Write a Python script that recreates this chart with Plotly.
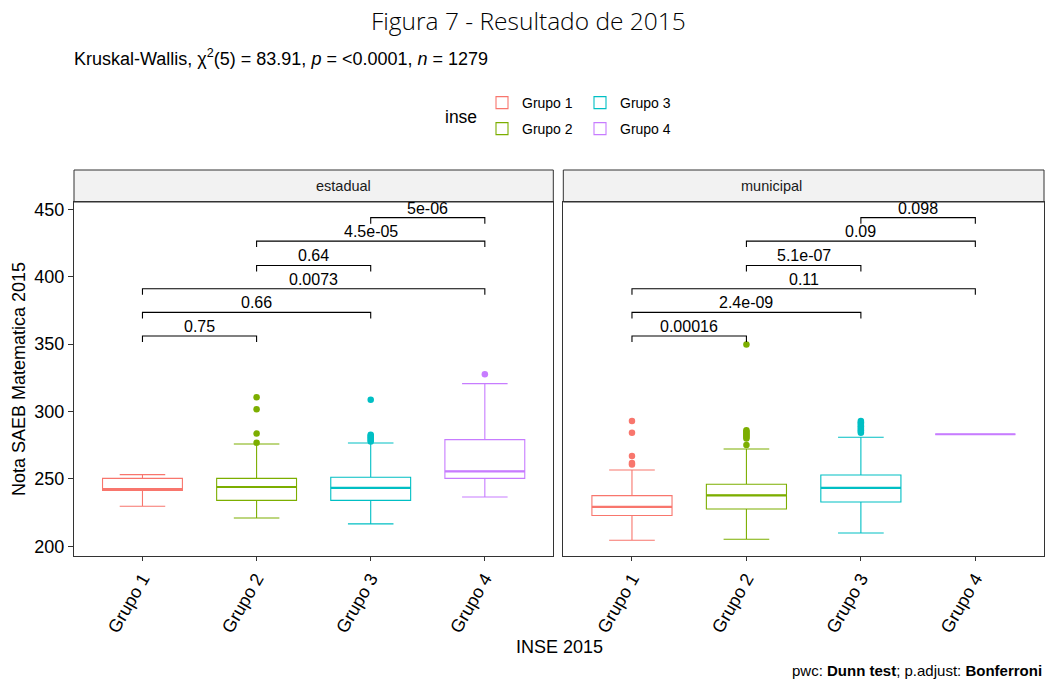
import plotly.graph_objects as go

# ---------------- data ----------------
groups = ["Grupo 1", "Grupo 2", "Grupo 3", "Grupo 4"]
colors = ["#F8766D", "#7CAE00", "#00BFC4", "#C77CFF"]
panels = ["estadual", "municipal"]

# estadual box statistics
est_q1 = [241.5, 234.1, 234.1, 250.4]
est_med = [242.5, 244.0, 243.3, 255.6]
est_q3 = [250.4, 250.4, 251.2, 279.1]
est_lo = [229.7, 221.0, 216.6, 236.6]
est_hi = [253.2, 275.9, 276.6, 320.7]
est_out = [[], [310.5, 301.6, 283.6, 276.8],
           [308.8, 282.8, 281.8, 280.8, 279.8, 278.8, 277.8], [327.6]]

# municipal box statistics
mun_q1 = [222.8, 227.7, 232.9, 283.1]
mun_med = [229.2, 237.8, 243.3, 283.1]
mun_q3 = [237.6, 246.0, 252.9, 283.1]
mun_lo = [204.5, 205.2, 209.9, 283.1]
mun_hi = [256.6, 272.2, 280.9, 283.1]
mun_out = [[293.0, 284.3, 267.0, 261.8, 260.6],
           [349.6, 286.0, 285.0, 284.0, 283.0, 282.0, 281.0, 280.0, 275.2],
           [293.0, 292.0, 291.0, 290.0, 289.0, 288.0, 287.0, 286.0, 285.0, 284.3],
           []]

# pairwise comparisons (Dunn test)
br_g1 = ["Grupo 1", "Grupo 1", "Grupo 1", "Grupo 2", "Grupo 2", "Grupo 3"]
br_g2 = ["Grupo 2", "Grupo 3", "Grupo 4", "Grupo 3", "Grupo 4", "Grupo 4"]
br_y = [356.0, 373.5, 391.0, 408.3, 426.4, 443.8]
est_p = ["0.75", "0.66", "0.0073", "0.64", "4.5e-05", "5e-06"]
mun_p = ["0.00016", "2.4e-09", "0.11", "5.1e-07", "0.09", "0.098"]
tip = 4.45

y_ticks = [200, 250, 300, 350, 400, 450]

# ---------------- figure ----------------
W, H = 1046, 683
ML, MR, MT, MB = 74, 2, 202, 127
PW, PH = W - ML - MR, H - MT - MB


def px(x):
    return (x - ML) / PW


def py(y):
    return (H - MB - y) / PH


FONT = "Arial, Liberation Sans, sans-serif"
fig = go.Figure()

panel_data = [
    (est_q1, est_med, est_q3, est_lo, est_hi, est_out, est_p),
    (mun_q1, mun_med, mun_q3, mun_lo, mun_hi, mun_out, mun_p),
]
legend_of = ["legend", "legend2", "legend", "legend2"]

for pi, (q1, med, q3, lo, hi, out, pv) in enumerate(panel_data):
    xa = "x" if pi == 0 else "x2"
    ya = "y" if pi == 0 else "y2"
    for gi, g in enumerate(groups):
        fig.add_trace(go.Box(
            x=[gi], q1=[q1[gi]], median=[med[gi]], q3=[q3[gi]],
            lowerfence=[lo[gi]], upperfence=[hi[gi]],
            name=g, boxpoints=False, width=0.7, whiskerwidth=0.57,
            line=dict(color=colors[gi], width=1.1), fillcolor="rgba(255,255,255,0)",
            xaxis=xa, yaxis=ya, showlegend=(pi == 0), legend=legend_of[gi],
            legendgroup=g, hoverinfo="skip"))
        # thicker median segment
        fig.add_trace(go.Scatter(
            x=[gi - 0.35, gi + 0.35], y=[med[gi], med[gi]], mode="lines",
            line=dict(color=colors[gi], width=2.2), xaxis=xa, yaxis=ya,
            showlegend=False, hoverinfo="skip"))
        if out[gi]:
            fig.add_trace(go.Scatter(
                x=[gi] * len(out[gi]), y=out[gi], mode="markers",
                marker=dict(color=colors[gi], size=6.5), xaxis=xa, yaxis=ya,
                showlegend=False, hoverinfo="skip"))
    # brackets
    for bi in range(len(br_y)):
        a = groups.index(br_g1[bi])
        b = groups.index(br_g2[bi])
        yb = br_y[bi]
        fig.add_trace(go.Scatter(
            x=[a, a, b, b], y=[yb - tip, yb, yb, yb - tip], mode="lines",
            line=dict(color="black", width=1.1), xaxis=xa, yaxis=ya,
            showlegend=False, hoverinfo="skip"))
        fig.add_annotation(
            x=(a + b) / 2, y=yb, xref=xa, yref=ya, text=pv[bi], showarrow=False,
            yanchor="bottom", yshift=-1, font=dict(family=FONT, size=16, color="black"))

d1 = [0, px(553.3)]
d2 = [px(563.3), 1.0]
ax_common = dict(
    range=[-0.6, 3.6], tickmode="array", tickvals=list(range(4)), ticktext=groups,
    tickangle=-60, ticks="outside", ticklen=4, tickcolor="#333333", tickwidth=1,
    showline=True, mirror=True, linecolor="#333333", linewidth=1,
    showgrid=False, zeroline=False,
    tickfont=dict(family=FONT, size=18, color="black"))
yax_common = dict(
    range=[192.8, 455.4], showline=True, mirror=True, linecolor="#333333",
    linewidth=1, showgrid=False, zeroline=False)

fig.update_layout(
    width=W, height=H, plot_bgcolor="white", paper_bgcolor="white",
    margin=dict(l=ML, r=MR, t=MT, b=MB),
    xaxis=dict(domain=d1, anchor="y", **ax_common),
    xaxis2=dict(domain=d2, anchor="y2", **ax_common),
    yaxis=dict(anchor="x", tickmode="array", tickvals=y_ticks, ticks="outside",
               ticklen=5, tickcolor="#333333",
               tickfont=dict(family=FONT, size=18, color="black"), **yax_common),
    yaxis2=dict(anchor="x2", matches="y", showticklabels=False, ticks="", **yax_common),
    boxmode="overlay",
    legend=dict(orientation="h", x=px(482), y=py(103), xanchor="left", yanchor="middle",
                entrywidth=53, font=dict(family=FONT, size=14, color="black"),
                bgcolor="rgba(0,0,0,0)"),
    legend2=dict(orientation="h", x=px(482), y=py(129), xanchor="left", yanchor="middle",
                 entrywidth=53, font=dict(family=FONT, size=14, color="black"),
                 bgcolor="rgba(0,0,0,0)"),
)

# strips
for pname, dom in zip(panels, [d1, d2]):
    fig.add_shape(type="rect", xref="paper", yref="paper", x0=dom[0], x1=dom[1],
                  y0=1.0, y1=1.0 + 32 / PH, fillcolor="#F2F2F2",
                  line=dict(color="#333333", width=1), layer="below")
    fig.add_annotation(xref="paper", yref="paper", x=(dom[0] + dom[1]) / 2,
                       y=1.0 + 16 / PH, text=pname, showarrow=False,
                       yanchor="middle", font=dict(family=FONT, size=14.5, color="#1A1A1A"))

# titles
fig.add_annotation(xref="paper", yref="paper", x=px(528), y=py(20), text="Figura 7 - Resultado de 2015",
                   showarrow=False, xanchor="center", yanchor="middle",
                   font=dict(family="Open Sans, sans-serif", size=24.5, color="black", weight=300))
fig.add_annotation(xref="paper", yref="paper", x=0, y=py(57),
                   text="Kruskal-Wallis, χ<sup>2</sup>(5) = 83.91, <i>p</i> = &lt;0.0001, <i>n</i> = 1279",
                   showarrow=False, xanchor="left", yanchor="middle", xshift=-2,
                   font=dict(family=FONT, size=18, color="black"))
fig.add_annotation(xref="paper", yref="paper", x=px(461), y=py(117), text="inse",
                   showarrow=False, xanchor="center", yanchor="middle",
                   font=dict(family=FONT, size=17.5, color="black"))
fig.add_annotation(xref="paper", yref="paper", x=0.5, y=py(647), text="INSE 2015",
                   showarrow=False, xanchor="center", yanchor="middle",
                   font=dict(family=FONT, size=18, color="black"))
fig.add_annotation(xref="paper", yref="paper", x=px(19), y=0.5, text="Nota SAEB Matematica 2015",
                   showarrow=False, textangle=-90, xanchor="center", yanchor="middle",
                   font=dict(family=FONT, size=18, color="black"))
fig.add_annotation(xref="paper", yref="paper", x=1.0, y=py(670),
                   text="pwc: <b>Dunn test</b>; p.adjust: <b>Bonferroni</b>",
                   showarrow=False, xanchor="right", yanchor="middle",
                   font=dict(family=FONT, size=15, color="black"))

fig.write_html("out.html", post_script="document.body.style.margin='0';",
               config={"displayModeBar": False})
